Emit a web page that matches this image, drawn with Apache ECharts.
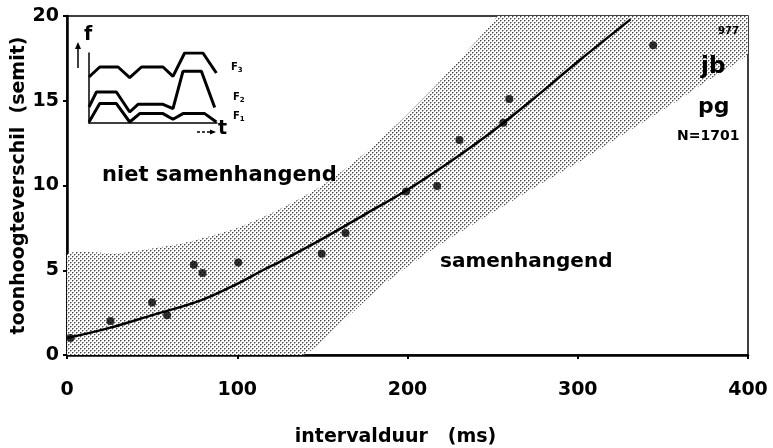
<!DOCTYPE html>
<html><head><meta charset="utf-8">
<script src="https://cdn.jsdelivr.net/npm/echarts@6/dist/echarts.min.js"></script>
<style>html,body{margin:0;padding:0;background:#fff}#c{width:773px;height:448px}</style>
</head><body><div id="c"></div>
<script>
// ---- data ----
const xTicks = [0, 100, 200, 300, 400];
const yTicks = [0, 5, 10, 15, 20];
const pointsX = [2, 25.5, 50, 58.8, 74.5, 79.6, 100.6, 149.6, 163.6, 199.2, 217.4, 230.5, 256.3, 259.8, 344.3];
const pointsY = [1.0, 2.0, 3.1, 2.35, 5.32, 4.84, 5.45, 5.98, 7.2, 9.64, 9.97, 12.68, 13.7, 15.1, 18.27];
const curveX = [0, 25, 50, 79, 100, 115, 125, 150, 175, 200, 225, 250, 275, 300, 331];
const curveY = [1.0, 1.6, 2.35, 3.24, 4.2, 5.0, 5.5, 6.85, 8.3, 9.75, 11.4, 13.2, 15.2, 17.3, 19.8];
const bandUpperX = [0, 30, 68, 100, 125, 150, 175, 200, 225, 250, 253];
const bandUpperY = [5.9, 6.0, 6.6, 7.5, 8.6, 10.0, 11.9, 14.2, 16.8, 19.6, 20];
const bandLowerX = [138, 160, 184, 200, 219, 250, 275, 301, 325, 354, 375, 400];
const bandLowerY = [0, 1.8, 4.0, 5.2, 6.5, 8.4, 9.9, 11.4, 12.9, 14.7, 16.1, 17.8];
// inset (formant sketch), arbitrary units t 0..10, f 0..7
const insetF3T = [0, 0.84, 2.27, 3.18, 4.1, 5.78, 6.56, 7.47, 8.9, 9.95];
const insetF3F = [4.6, 5.6, 5.6, 4.54, 5.6, 5.6, 4.67, 7.0, 7.0, 5.0];
const insetF2T = [0, 0.58, 2.14, 3.18, 3.83, 5.78, 6.56, 7.34, 8.78, 9.82];
const insetF2F = [1.6, 3.1, 3.1, 1.1, 1.87, 1.87, 1.44, 5.17, 5.17, 1.54];
const insetF1T = [0, 0.84, 2.14, 3.18, 3.96, 5.78, 6.56, 7.34, 9.04, 9.95];
const insetF1F = [0.1, 1.94, 1.94, 0.1, 0.94, 0.94, 0.37, 0.94, 0.94, 0.1];

const zip = (a, b) => a.map((v, i) => [v, b[i]]);

// stipple pattern
const pc = document.createElement('canvas');
pc.width = 4; pc.height = 4;
const g = pc.getContext('2d');
g.fillStyle = '#fff'; g.fillRect(0, 0, 4, 4);
g.fillStyle = '#a8a8a8';
[[1,0],[0,1],[3,2],[2,3]].forEach(p => g.fillRect(p[0], p[1], 1, 1));
g.fillStyle = '#484848';
[[0,0],[2,2]].forEach(p => g.fillRect(p[0], p[1], 1, 1));

const bandPoly = zip(bandUpperX, bandUpperY)
  .concat([[400, 20]])
  .concat(zip(bandLowerX, bandLowerY).reverse())
  .concat([[0, 0]]);

const FONT = 'DejaVu Sans';
const chart = echarts.init(document.getElementById('c'), null, {renderer: 'canvas'});
const inX = 89, inTop = 53, inW = 128, inH = 70;
const bold = (size) => ({fontFamily: FONT, fontWeight: 'bold', fontSize: size, fill: '#000'});
chart.setOption({
  backgroundColor: '#fff',
  animation: false,
  grid: [
    {left: 67, right: 25, top: 16, bottom: 93, show: true, borderColor: '#000', borderWidth: 1.5,
     backgroundColor: 'transparent', outerBoundsMode: 'none', containLabel: false},
    {left: inX, top: inTop, width: inW, height: inH, outerBoundsMode: 'none', containLabel: false}
  ],
  xAxis: [
    {type: 'value', gridIndex: 0, min: xTicks[0], max: xTicks[xTicks.length - 1], interval: 100,
     name: 'intervalduur   (ms)', nameLocation: 'middle', nameGap: 73,
     nameTextStyle: {fontFamily: FONT, fontWeight: 'bold', fontSize: 19, color: '#000', padding: [0, 24, 0, 0]},
     axisLine: {show: true, lineStyle: {color: '#000', width: 2.5}},
     axisTick: {show: true, length: 4, lineStyle: {color: '#000', width: 2}},
     axisLabel: {fontFamily: FONT, fontWeight: 'bold', fontSize: 19, color: '#000', margin: 26},
     splitLine: {show: false}},
    {type: 'value', gridIndex: 1, min: 0, max: 10,
     axisLine: {show: true, lineStyle: {color: '#000', width: 1.5}},
     axisTick: {show: false}, axisLabel: {show: false}, splitLine: {show: false}}
  ],
  yAxis: [
    {type: 'value', gridIndex: 0, min: yTicks[0], max: yTicks[yTicks.length - 1], interval: 5,
     name: 'toonhoogteverschil  (semit)', nameLocation: 'middle', nameGap: 38, nameMoveOverlap: false,
     nameTextStyle: {fontFamily: FONT, fontWeight: 'bold', fontSize: 19, color: '#000'},
     axisLine: {show: true, lineStyle: {color: '#000', width: 2.5}},
     axisTick: {show: true, length: 4, lineStyle: {color: '#000', width: 2}},
     axisLabel: {fontFamily: FONT, fontWeight: 'bold', fontSize: 19, color: '#000', margin: 8},
     splitLine: {show: false}},
    {type: 'value', gridIndex: 1, min: 0, max: 7,
     axisLine: {show: true, lineStyle: {color: '#000', width: 1.5}},
     axisTick: {show: false}, axisLabel: {show: false}, splitLine: {show: false}}
  ],
  series: [
    {type: 'custom', xAxisIndex: 0, yAxisIndex: 0, silent: true, z: 1, clip: true,
     data: [[0, 0]],
     renderItem: function (params, api) {
       const pts = bandPoly.map(p => api.coord(p));
       return {type: 'polygon', shape: {points: pts, smooth: 0.2}, style: {fill: {image: pc, repeat: 'repeat'}}};
     }},
    {type: 'line', xAxisIndex: 0, yAxisIndex: 0, data: zip(curveX, curveY), smooth: 0.4,
     symbol: 'none', z: 3, lineStyle: {color: '#000', width: 2.5}},
    {type: 'scatter', xAxisIndex: 0, yAxisIndex: 0, data: zip(pointsX, pointsY), symbolSize: 8,
     z: 4, itemStyle: {color: '#000'}},
    {type: 'line', xAxisIndex: 1, yAxisIndex: 1, data: zip(insetF3T, insetF3F), symbol: 'none', z: 5,
     lineStyle: {color: '#000', width: 3}},
    {type: 'line', xAxisIndex: 1, yAxisIndex: 1, data: zip(insetF2T, insetF2F), symbol: 'none', z: 5,
     lineStyle: {color: '#000', width: 3}},
    {type: 'line', xAxisIndex: 1, yAxisIndex: 1, data: zip(insetF1T, insetF1F), symbol: 'none', z: 5,
     lineStyle: {color: '#000', width: 3}}
  ],
  graphic: [
    {type: 'text', left: 102, top: 165, z: 10, style: Object.assign({text: 'niet samenhangend'}, bold(21))},
    {type: 'text', left: 440, top: 252, z: 10, style: Object.assign({text: 'samenhangend'}, bold(20))},
    {type: 'text', left: 718, top: 26, z: 10, style: Object.assign({text: '977'}, bold(10))},
    {type: 'text', left: 701, top: 56, z: 10, style: Object.assign({text: 'jb'}, bold(23))},
    {type: 'text', left: 698, top: 96, z: 10, style: Object.assign({text: 'pg'}, bold(22))},
    {type: 'text', left: 677, top: 129, z: 10, style: Object.assign({text: 'N=1701'}, bold(14))},
    // inset labels
    {type: 'text', left: 84, top: 26, z: 10, style: Object.assign({text: 'f'}, bold(19))},
    {type: 'text', left: 218, top: 120, z: 10, style: Object.assign({text: 't'}, bold(19))},
    {type: 'text', left: 231, top: 62, z: 10, style: {rich: {a: bold(10), s: Object.assign({padding: [6, 0, 0, 0]}, bold(7))}, text: '{a|F}{s|3}'}},
    {type: 'text', left: 233, top: 92, z: 10, style: {rich: {a: bold(10), s: Object.assign({padding: [6, 0, 0, 0]}, bold(7))}, text: '{a|F}{s|2}'}},
    {type: 'text', left: 233, top: 111, z: 10, style: {rich: {a: bold(10), s: Object.assign({padding: [6, 0, 0, 0]}, bold(7))}, text: '{a|F}{s|1}'}},
    // up arrow
    {type: 'line', z: 10, shape: {x1: 78, y1: 68, x2: 78, y2: 47}, style: {stroke: '#000', lineWidth: 1.5}},
    {type: 'polygon', z: 10, shape: {points: [[75, 49], [81, 49], [78, 42]]}, style: {fill: '#000'}},
    // dashed right arrow
    {type: 'line', z: 10, shape: {x1: 197, y1: 132, x2: 212, y2: 132}, style: {stroke: '#000', lineWidth: 1.3, lineDash: [3, 2]}},
    {type: 'polygon', z: 10, shape: {points: [[210, 129.5], [210, 134.5], [216, 132]]}, style: {fill: '#000'}}
  ]
});
</script>
</body></html>
